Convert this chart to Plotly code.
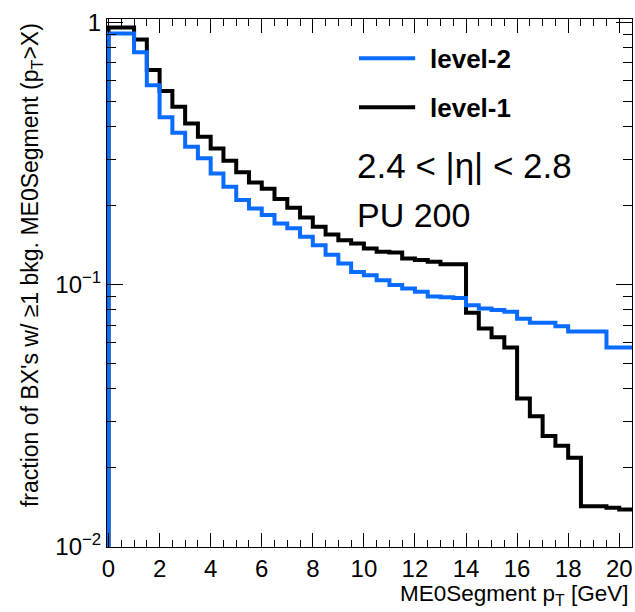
import numpy as np
import plotly.graph_objects as go

# ---- data ----
bin_edges = [i * 0.5 for i in range(42)]  # 0 .. 20.5, 0.5 GeV bins

level2 = [0.905, 0.905, 0.767, 0.575, 0.434, 0.379, 0.335, 0.303, 0.265, 0.236,
          0.210, 0.195, 0.184, 0.171, 0.1637, 0.152, 0.1413, 0.130, 0.1204, 0.1117,
          0.1086, 0.1039, 0.0995, 0.0966, 0.0938, 0.0900, 0.0895, 0.0889, 0.0834, 0.0810,
          0.0800, 0.0788, 0.0740, 0.0716, 0.0716, 0.0693, 0.0663, 0.0663, 0.0663, 0.0576,
          0.0576]

level1 = [0.953, 0.953, 0.859, 0.657, 0.546, 0.476, 0.411, 0.366, 0.330, 0.296,
          0.268, 0.245, 0.232, 0.212, 0.196, 0.180, 0.166, 0.155, 0.1476, 0.1434,
          0.1373, 0.1333, 0.1324, 0.1258, 0.1240, 0.1222, 0.1196, 0.1196, 0.078, 0.068,
          0.0630, 0.0576, 0.0368, 0.0315, 0.0265, 0.0243, 0.0219, 0.0143, 0.0143, 0.0141,
          0.0139]

baseline = 1e-3  # histogram drawn from below the visible range

x_ticks = [0, 2, 4, 6, 8, 10, 12, 14, 16, 18, 20]
y_ticks = [0.01, 0.1, 1]
y_ticktext = ["10<sup>\u22122</sup>", "10<sup>\u22121</sup>", "1"]

BLUE = "#0a6cff"
FONT = "Liberation Sans, Arial, Helvetica, sans-serif"


def step_xy(edges, vals):
    xs = [edges[0]] + list(edges[:len(vals)]) + [edges[len(vals)]]
    ys = [baseline] + list(vals) + [vals[-1]]
    return xs, ys


fig = go.Figure()
for vals, col in [(level1, "black"), (level2, BLUE)]:
    xs, ys = step_xy(bin_edges, vals)
    fig.add_trace(go.Scatter(x=xs, y=ys, mode="lines", line=dict(color=col, width=4, shape="hv"),
                             showlegend=False, hoverinfo="skip"))

minor_y = [m * 10 ** e for e in (-2, -1) for m in range(2, 10)]

fig.update_layout(
    width=635, height=612,
    margin=dict(l=107, r=3, t=19, b=65),
    paper_bgcolor="white", plot_bgcolor="white",
    font=dict(family=FONT, color="black"),
    xaxis=dict(range=[-0.06, 20.5], tickvals=x_ticks, ticks="inside", ticklen=14, tickwidth=1,
               tickcolor="black", showline=True, linecolor="black", linewidth=1, mirror="allticks",
               showgrid=False, zeroline=False, tickfont=dict(size=24, family=FONT),
               minor=dict(dtick=0.5, tick0=0, ticks="inside", ticklen=7, tickcolor="black", showgrid=False)),
    yaxis=dict(type="log", range=[-2, 0.0118], tickvals=y_ticks, ticktext=y_ticktext,
               ticks="inside", ticklen=16, tickwidth=1, tickcolor="black", showline=True,
               linecolor="black", linewidth=1, mirror="allticks", showgrid=False, zeroline=False,
               tickfont=dict(size=24, family=FONT),
               minor=dict(tickvals=minor_y, ticks="inside", ticklen=9, tickcolor="black", showgrid=False)),
)

# legend (drawn by hand, ROOT style)
fig.add_shape(type="line", xref="paper", yref="paper", x0=0.48, x1=0.587, y0=0.9256, y1=0.9256,
              line=dict(color=BLUE, width=4))
fig.add_shape(type="line", xref="paper", yref="paper", x0=0.48, x1=0.587, y0=0.8328, y1=0.8328,
              line=dict(color="black", width=4))
fig.add_annotation(xref="paper", yref="paper", x=0.6114, y=0.924, xanchor="left", yanchor="middle",
                   text="<b>level-2</b>", showarrow=False, font=dict(size=26, family=FONT))
fig.add_annotation(xref="paper", yref="paper", x=0.6114, y=0.8314, xanchor="left", yanchor="middle",
                   text="<b>level-1</b>", showarrow=False, font=dict(size=26, family=FONT))
fig.add_annotation(xref="paper", yref="paper", x=0.4724, y=0.7216, xanchor="left", yanchor="middle",
                   text="2.4 < |\u03b7| < 2.8", showarrow=False, font=dict(size=35, family=FONT))
fig.add_annotation(xref="paper", yref="paper", x=0.4724, y=0.628, xanchor="left", yanchor="middle",
                   text="PU 200", showarrow=False, font=dict(size=34, family=FONT))

# axis titles
fig.add_annotation(xref="paper", yref="paper", x=-0.1448, y=0.534, xanchor="center", yanchor="middle",
                   textangle=-90, showarrow=False,
                   text="fraction of BX's w/ \u22651 bkg. ME0Segment (p<sub>T</sub>>X)",
                   font=dict(size=23, family=FONT))
fig.add_annotation(xref="paper", yref="paper", x=0.998, y=-0.09, xanchor="right", yanchor="middle",
                   showarrow=False, text="ME0Segment p<sub>T</sub> [GeV]", font=dict(size=22.5, family=FONT))

fig.write_html("out.html", config={"displayModeBar": False},
               post_script="document.body.style.margin='0';document.body.style.overflow='hidden';")
